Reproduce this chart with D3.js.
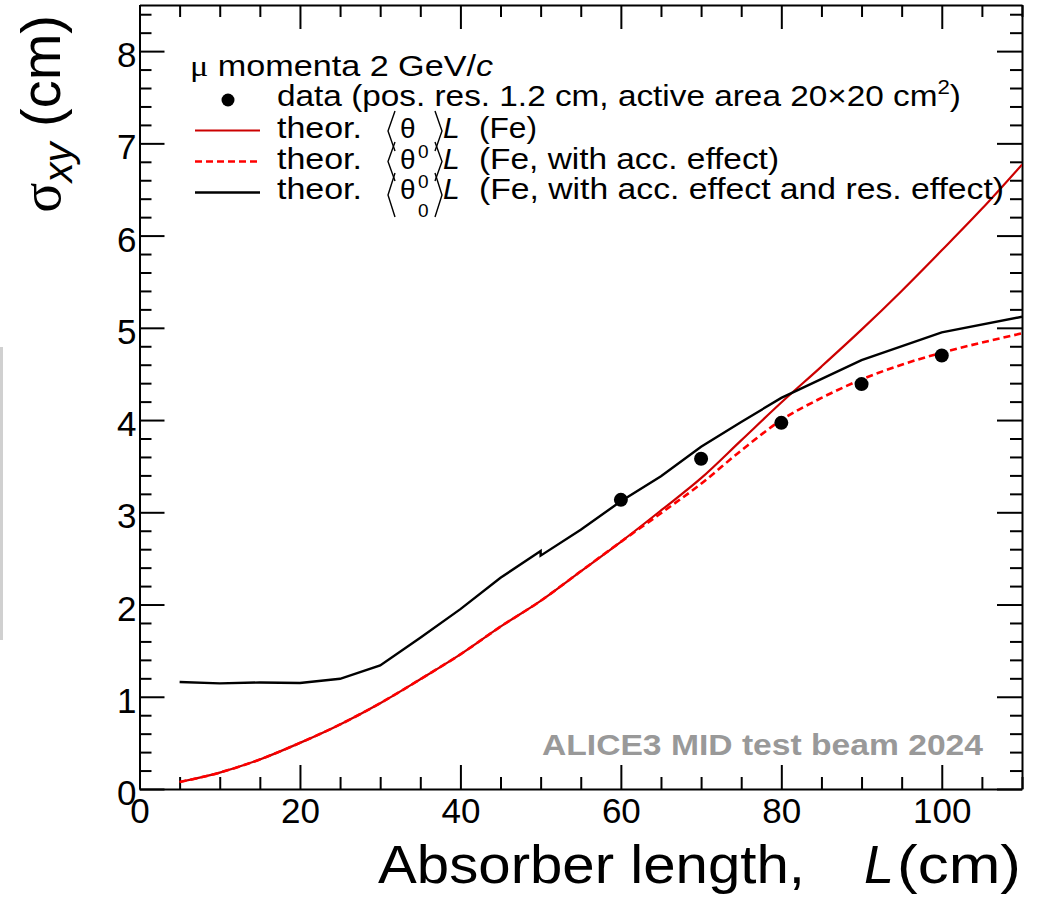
<!DOCTYPE html>
<html><head><meta charset="utf-8">
<script src="https://cdn.jsdelivr.net/npm/d3@7"></script>
<style>
body{margin:0;background:#fff}
svg{display:block}
text{font-family:"Liberation Sans",Arial,Helvetica,sans-serif}
</style>
</head><body>
<svg id="c" width="1040" height="897"></svg>
<script>
// ---- data ----
const dataL = [60, 70, 80, 90, 100];
const dataSigma = [3.135, 3.58, 3.97, 4.39, 4.70];

const feL = [5,10,15,20,25,30,35,40,45,50,55,60,65,70,75,80,85,90,95,100,105,110];
const feSigma = [0.076,0.178,0.32,0.50,0.70,0.93,1.19,1.46,1.76,2.04,2.36,2.68,3.02,3.37,3.78,4.19,4.58,4.98,5.40,5.84,6.29,6.77];

const accL = [5,10,15,20,25,30,35,40,45,50,55,60,65,70,75,80,85,90,95,100,105,110];
const accSigma = [0.076,0.178,0.32,0.50,0.70,0.93,1.19,1.46,1.76,2.04,2.36,2.68,2.99,3.31,3.67,4.00,4.24,4.44,4.60,4.73,4.84,4.94];

const resL = [5,10,15,20,25,30,35,40,45,50,50,55,60,65,70,75,80,90,100,110];
const resSigma = [1.16,1.145,1.155,1.15,1.195,1.34,1.64,1.95,2.29,2.58,2.53,2.81,3.12,3.39,3.71,3.98,4.24,4.65,4.95,5.12];

const xTickValues = [0, 20, 40, 60, 80, 100];
const xTickLabels = ["0", "20", "40", "60", "80", "100"];
const yTickValues = [0, 1, 2, 3, 4, 5, 6, 7, 8];
const yTickLabels = ["0", "1", "2", "3", "4", "5", "6", "7", "8"];

// ---- setup ----
const svg = d3.select("#c");
const pL = 139.5, pR = 1022, pT = 5, pB = 789;
const x = d3.scaleLinear().domain([0, 110]).range([pL, pR]);
const y = d3.scaleLinear().domain([0, 8.5]).range([pB, pT]);

// left gray artifact bar
svg.append("rect").attr("x", 0).attr("y", 347).attr("width", 3).attr("height", 293).attr("fill", "#d0d0d0");

const xMinor = d3.range(0, 23).map(i => i * 5).filter(v => v % 20 !== 0 && v <= 110);
const yMinor = d3.range(0, 43).map(i => i / 5).filter((v, i) => i % 5 !== 0 && v <= 8.5);

function styleAxis(g) {
  g.attr("font-family", null).attr("font-size", null);
  g.selectAll("path.domain").attr("stroke", "#000").attr("stroke-width", 2);
  g.selectAll(".tick line").attr("stroke", "#000").attr("stroke-width", 2);
}

// bottom axis
const gB = svg.append("g").attr("transform", `translate(0,${pB})`)
  .call(d3.axisBottom(x).tickValues(xTickValues).tickFormat((d, i) => xTickLabels[i]).tickSizeInner(-24).tickSizeOuter(0));
styleAxis(gB);
gB.selectAll(".tick text").attr("y", 34).attr("dy", null).attr("font-size", 35).attr("fill", "#000").attr("text-anchor", "middle");
const gBm = svg.append("g").attr("transform", `translate(0,${pB})`)
  .call(d3.axisBottom(x).tickValues(xMinor).tickFormat("").tickSizeInner(-12).tickSizeOuter(0));
styleAxis(gBm); gBm.select(".domain").remove();

// top axis
const gT = svg.append("g").attr("transform", `translate(0,${pT})`)
  .call(d3.axisTop(x).tickValues(xTickValues).tickFormat("").tickSizeInner(-24).tickSizeOuter(0));
styleAxis(gT);
const gTm = svg.append("g").attr("transform", `translate(0,${pT})`)
  .call(d3.axisTop(x).tickValues(xMinor).tickFormat("").tickSizeInner(-12).tickSizeOuter(0));
styleAxis(gTm); gTm.select(".domain").remove();

// left axis
const gL = svg.append("g").attr("transform", `translate(${pL},0)`)
  .call(d3.axisLeft(y).tickValues(yTickValues).tickFormat((d, i) => yTickLabels[i]).tickSizeInner(-25).tickSizeOuter(0));
styleAxis(gL);
gL.selectAll(".tick text").attr("x", -3).attr("dy", null).attr("y", 15.5).attr("font-size", 35).attr("fill", "#000").attr("text-anchor", "end");
const gLm = svg.append("g").attr("transform", `translate(${pL},0)`)
  .call(d3.axisLeft(y).tickValues(yMinor).tickFormat("").tickSizeInner(-12).tickSizeOuter(0));
styleAxis(gLm); gLm.select(".domain").remove();

// right axis
const gR = svg.append("g").attr("transform", `translate(${pR},0)`)
  .call(d3.axisRight(y).tickValues(yTickValues).tickFormat("").tickSizeInner(-25).tickSizeOuter(0));
styleAxis(gR);
const gRm = svg.append("g").attr("transform", `translate(${pR},0)`)
  .call(d3.axisRight(y).tickValues(yMinor).tickFormat("").tickSizeInner(-12).tickSizeOuter(0));
styleAxis(gRm); gRm.select(".domain").remove();

// ---- curves ----
svg.append("clipPath").attr("id", "plotclip").append("rect")
  .attr("x", pL).attr("y", pT).attr("width", pR - pL).attr("height", pB - pT);
const plot = svg.append("g").attr("clip-path", "url(#plotclip)");

const lineSmooth = d3.line().x(d => x(d[0])).y(d => y(d[1])).curve(d3.curveMonotoneX);
const lineLin = d3.line().x(d => x(d[0])).y(d => y(d[1]));

plot.append("path").datum(feL.map((l, i) => [l, feSigma[i]]))
  .attr("d", lineSmooth).attr("fill", "none").attr("stroke", "#cc0000").attr("stroke-width", 2.2);
plot.append("path").datum(accL.map((l, i) => [l, accSigma[i]]))
  .attr("d", lineSmooth).attr("fill", "none").attr("stroke", "#ff0000").attr("stroke-width", 2.6)
  .attr("stroke-dasharray", "7,4");
plot.append("path").datum(resL.map((l, i) => [l, resSigma[i]]))
  .attr("d", lineLin).attr("fill", "none").attr("stroke", "#000").attr("stroke-width", 2.4);

plot.selectAll("circle.pt").data(dataL.map((l, i) => [l, dataSigma[i]])).join("circle")
  .attr("class", "pt").attr("cx", d => x(d[0])).attr("cy", d => y(d[1])).attr("r", 7).attr("fill", "#000");

// ---- axis titles ----
svg.append("text").attr("x", 378).attr("y", 883).attr("font-size", 54)
  .attr("textLength", 427).attr("lengthAdjust", "spacingAndGlyphs").text("Absorber length,");
svg.append("text").attr("x", 864).attr("y", 883).attr("font-size", 54).attr("font-style", "italic").text("L");
svg.append("text").attr("x", 897).attr("y", 883).attr("font-size", 54)
  .attr("textLength", 124).attr("lengthAdjust", "spacingAndGlyphs").text("(cm)");

const yt = svg.append("text").attr("transform", "translate(60,15) rotate(-90)")
  .attr("text-anchor", "end").attr("font-size", 56);
yt.append("tspan").attr("font-family", "'Liberation Serif','DejaVu Serif',serif").text("σ");
yt.append("tspan").attr("font-size", 40).attr("font-style", "italic").attr("dy", 12).text("xy");
yt.append("tspan").attr("dy", -12).text(" (cm)");

// ---- legend ----
const lg = svg.append("g");
const lgFont = 30;
const t0 = lg.append("text").attr("x", 190).attr("y", 76).attr("font-size", lgFont)
  .attr("textLength", 303).attr("lengthAdjust", "spacingAndGlyphs");
t0.append("tspan").attr("font-family", "'Liberation Serif','DejaVu Serif',serif").text("μ");
t0.append("tspan").text(" momenta 2 GeV/");
t0.append("tspan").attr("font-style", "italic").text("c");

lg.append("circle").attr("cx", 228).attr("cy", 100).attr("r", 6.5).attr("fill", "#000");
const t1 = lg.append("text").attr("x", 277).attr("y", 106).attr("font-size", lgFont)
  .attr("textLength", 684).attr("lengthAdjust", "spacingAndGlyphs");
t1.append("tspan").text("data (pos. res. 1.2 cm, active area 20×20 cm");
t1.append("tspan").attr("font-size", 20).attr("dy", -12).text("2");
t1.append("tspan").attr("dy", 12).text(")");

const rows = [
  {cy: 130.5, base: 137.5, stroke: "#cc0000", dash: null, sw: 2.2, sup: false, sub: false, br: [111, 151], txt: "(Fe)", tl: 58},
  {cy: 161.5, base: 168.5, stroke: "#ff0000", dash: "7,4", sw: 2.6, sup: true, sub: false, br: [142, 181], txt: "(Fe, with acc. effect)", tl: 300},
  {cy: 192.5, base: 199, stroke: "#000", dash: null, sw: 2.4, sup: true, sub: true, br: [173, 217], txt: "(Fe, with acc. effect and res. effect)", tl: 525}
];
rows.forEach(r => {
  lg.append("line").attr("x1", 195).attr("x2", 260).attr("y1", r.cy).attr("y2", r.cy)
    .attr("stroke", r.stroke).attr("stroke-width", r.sw).attr("stroke-dasharray", r.dash);
  lg.append("text").attr("x", 277).attr("y", r.base).attr("font-size", lgFont)
    .attr("textLength", 85).attr("lengthAdjust", "spacingAndGlyphs").text("theor.");
  const mid = (r.br[0] + r.br[1]) / 2;
  lg.append("path").attr("d", `M395,${r.br[0]} L388,${mid} L395,${r.br[1]}`)
    .attr("fill", "none").attr("stroke", "#000").attr("stroke-width", 1.4);
  lg.append("path").attr("d", `M435,${r.br[0]} L442,${mid} L435,${r.br[1]}`)
    .attr("fill", "none").attr("stroke", "#000").attr("stroke-width", 1.4);
  lg.append("text").attr("x", 400).attr("y", r.base).attr("font-size", 28)
    .attr("font-family", "'Liberation Serif','DejaVu Serif',serif").text("θ");
  if (r.sup) lg.append("text").attr("x", 418).attr("y", r.base - 11).attr("font-size", 19).text("0");
  if (r.sub) lg.append("text").attr("x", 418).attr("y", r.base + 18).attr("font-size", 19).text("0");
  lg.append("text").attr("x", 443).attr("y", r.base).attr("font-size", lgFont).attr("font-style", "italic").text("L");
  lg.append("text").attr("x", 479).attr("y", r.base).attr("font-size", lgFont)
    .attr("textLength", r.tl).attr("lengthAdjust", "spacingAndGlyphs").text(r.txt);
});

// ---- watermark label ----
svg.append("text").attr("x", 542).attr("y", 755).attr("font-size", 29).attr("font-weight", "bold")
  .attr("fill", "#999999").attr("textLength", 441).attr("lengthAdjust", "spacingAndGlyphs")
  .text("ALICE3 MID test beam 2024");
</script>
</body></html>
